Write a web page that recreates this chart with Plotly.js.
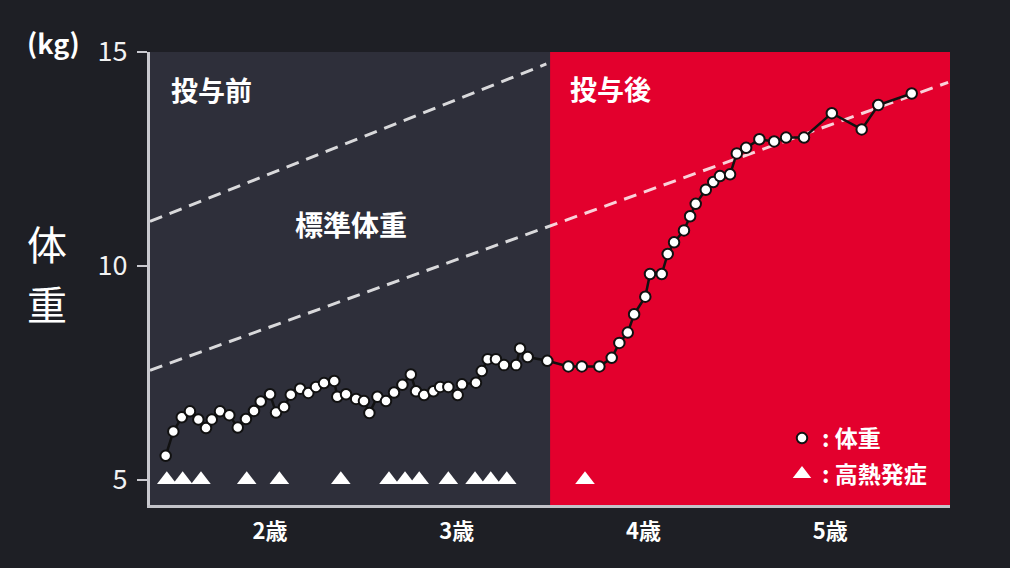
<!DOCTYPE html>
<html>
<head>
<meta charset="utf-8">
<script src="https://cdn.plot.ly/plotly-3.0.1.min.js"></script>
<style>
	body { margin: 0; background: #1e1f25; }
	#chart { width: 1010px; height: 568px; }
</style>
</head>
<body>
<div id="chart"></div>
<script>
// weight record (age in years, weight in kg)
const ages = [1.441, 1.482, 1.527, 1.571, 1.616, 1.657, 1.688, 1.732, 1.782, 1.827,
	1.871, 1.914, 1.950, 2.000, 2.032, 2.075, 2.111, 2.161, 2.205, 2.246,
	2.289, 2.344, 2.360, 2.407, 2.461, 2.503, 2.532, 2.575, 2.621, 2.664,
	2.709, 2.754, 2.782, 2.825, 2.875, 2.911, 2.955, 3.005, 3.028, 3.103,
	3.134, 3.166, 3.210, 3.253, 3.318, 3.339, 3.380, 3.485, 3.598, 3.670,
	3.764, 3.830, 3.871, 3.916, 3.950, 4.010, 4.035, 4.098, 4.130, 4.164,
	4.217, 4.250, 4.280, 4.334, 4.374, 4.410, 4.464, 4.500, 4.550, 4.621,
	4.700, 4.764, 4.860, 5.009, 5.169, 5.258, 5.437]
const weights = [5.56, 6.13, 6.46, 6.60, 6.41, 6.21, 6.41, 6.60, 6.51, 6.22,
	6.42, 6.61, 6.83, 7.00, 6.57, 6.70, 6.99, 7.13, 7.03, 7.17,
	7.26, 7.31, 6.94, 7.00, 6.89, 6.84, 6.56, 6.94, 6.84, 7.04,
	7.22, 7.46, 7.07, 6.98, 7.07, 7.17, 7.17, 6.98, 7.23, 7.27,
	7.54, 7.82, 7.82, 7.68, 7.68, 8.07, 7.87, 7.78, 7.65, 7.65,
	7.65, 7.85, 8.20, 8.44, 8.87, 9.28, 9.81, 9.81, 10.28, 10.55,
	10.83, 11.16, 11.45, 11.78, 11.96, 12.10, 12.14, 12.63, 12.76, 12.96,
	12.91, 13.00, 13.00, 13.57, 13.19, 13.76, 14.03]

// high fever episodes
const feverAges = [1.447, 1.532, 1.630, 1.875, 2.050, 2.379, 2.637, 2.723, 2.799, 2.955,
	3.098, 3.182, 3.268, 3.687]
const feverMarks = [5, 5, 5, 5, 5, 5, 5, 5, 5, 5, 5, 5, 5, 5]

// standard weight band
const stdUpperAges = [1.357, 3.48]
const stdUpper = [11.04, 14.72]
const stdLowerAges = [1.357, 5.632]
const stdLower = [7.56, 14.29]

const doseStart = 3.5

const xTickVals = [2, 3, 4, 5]
const xTickText = ['2歳', '3歳', '4歳', '5歳']
const yTickVals = [5, 10, 15]

const jp = 'Noto Sans CJK JP'
const dashStyle = {color: 'rgba(255,255,255,0.82)', width: 3, dash: '13px,8px'}

Plotly.newPlot('chart', [
	{x: stdUpperAges, y: stdUpper, type: 'scatter', mode: 'lines', line: dashStyle, showlegend: false, hoverinfo: 'skip'},
	{x: stdLowerAges, y: stdLower, type: 'scatter', mode: 'lines', line: dashStyle, showlegend: false, hoverinfo: 'skip'},
	{x: ages, y: weights, type: 'scatter', mode: 'lines', line: {color: '#111', width: 2.5}, showlegend: false},
	{
		x: ages, y: weights, type: 'scatter', mode: 'markers',
		marker: {size: 10.5, color: '#fff', line: {color: '#111', width: 2}},
		name: '<b>: 体重</b>', legendgroup: 'a',
	},
	{
		x: feverAges, y: feverMarks, type: 'scatter', mode: 'markers',
		marker: {size: 17, symbol: 'triangle-up', color: '#fff'},
		name: '<b>: 高熱発症</b>', legendgroup: 'b',
	},
], {
	width: 1010,
	height: 568,
	margin: {l: 150, r: 60, t: 52, b: 63},
	paper_bgcolor: '#1e1f25',
	plot_bgcolor: '#2e2f3a',
	font: {family: jp, color: '#fff'},
	showlegend: true,
	legend: {
		x: 0.79, y: 0.195, xanchor: 'left', yanchor: 'top',
		bgcolor: 'rgba(0,0,0,0)', font: {size: 23, color: '#fff', family: jp},
		tracegroupgap: 3,
	},
	xaxis: {
		range: [1.357, 5.642],
		showgrid: false, zeroline: false,
		showline: true, linecolor: 'rgba(225,225,230,0.85)', linewidth: 3,
		tickvals: xTickVals,
		ticktext: xTickText.map(t => `<b>${t}</b>`),
		ticks: '',
		ticklabelstandoff: 5,
		tickfont: {size: 22, color: '#fff', family: jp},
	},
	yaxis: {
		range: [4.41, 15],
		showgrid: false, zeroline: false,
		showline: true, linecolor: '#c9c9cf', linewidth: 3,
		tickvals: yTickVals,
		ticks: 'outside', ticklen: 10, tickwidth: 2, tickcolor: '#c9c9cf',
		ticklabelstandoff: 4,
		tickfont: {size: 27, color: '#f2f2f2', family: jp},
	},
	shapes: [
		{type: 'rect', xref: 'x', yref: 'paper', x0: doseStart, x1: 5.642, y0: 0, y1: 1,
			fillcolor: '#e3002d', line: {width: 0}, layer: 'below'},
	],
	annotations: [
		{text: '<b>(kg)</b>', xref: 'paper', yref: 'paper', x: -0.121, y: 1.02, xanchor: 'center', yanchor: 'middle',
			showarrow: false, font: {size: 27, color: '#fff'}},
		{text: '体', xref: 'paper', yref: 'paper', x: -0.129, y: 0.578, xanchor: 'center', yanchor: 'middle',
			showarrow: false, font: {size: 40, color: '#fff'}},
		{text: '重', xref: 'paper', yref: 'paper', x: -0.129, y: 0.446, xanchor: 'center', yanchor: 'middle',
			showarrow: false, font: {size: 40, color: '#fff'}},
		{text: '<b>投与前</b>', xref: 'paper', yref: 'paper', x: 0.077, y: 0.918, xanchor: 'center', yanchor: 'middle',
			showarrow: false, font: {size: 27, color: '#fff'}},
		{text: '<b>投与後</b>', xref: 'paper', yref: 'paper', x: 0.576, y: 0.92, xanchor: 'center', yanchor: 'middle',
			showarrow: false, font: {size: 27, color: '#fff'}},
		{text: '<b>標準体重</b>', xref: 'paper', yref: 'paper', x: 0.251, y: 0.62, xanchor: 'center', yanchor: 'middle',
			showarrow: false, font: {size: 28, color: '#fff'}},
	],
}, {staticPlot: true})
</script>
</body>
</html>
